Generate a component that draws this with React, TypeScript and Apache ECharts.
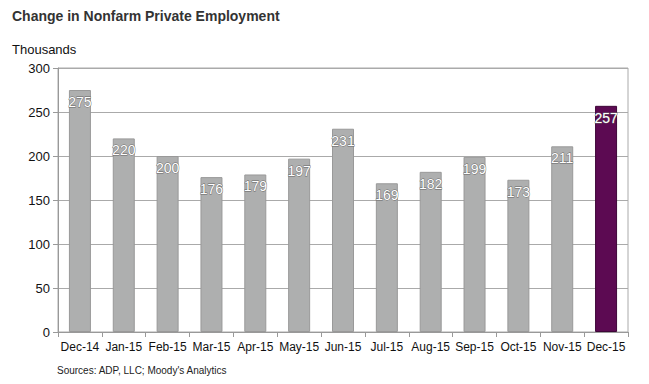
import React, { useEffect, useRef } from "react";
import * as echarts from "echarts";

const categories = ["Dec-14", "Jan-15", "Feb-15", "Mar-15", "Apr-15", "May-15", "Jun-15", "Jul-15", "Aug-15", "Sep-15", "Oct-15", "Nov-15", "Dec-15"];
const values = [275, 220, 200, 176, 179, 197, 231, 169, 182, 199, 173, 211, 257];
const highlightIndex = 12;

export default function App() {
  const ref = useRef<HTMLDivElement>(null);
  useEffect(() => {
    const chart = echarts.init(ref.current!, null, { renderer: "svg" });
    const font = "Arial, 'Liberation Sans', sans-serif";
    chart.setOption({
      animation: false,
      backgroundColor: "#ffffff",
      textStyle: { fontFamily: font },
      title: {
        text: "Change in Nonfarm Private Employment",
        left: 7,
        top: 4,
        textStyle: { fontSize: 14, fontWeight: "bold", color: "#333333", fontFamily: font },
      },
      graphic: [
        { type: "text", left: 12, top: 43, style: { text: "Thousands", fontSize: 13, fill: "#111", fontFamily: font } },
        { type: "text", left: 57, top: 365, style: { text: "Sources: ADP, LLC; Moody's Analytics", fontSize: 10, fill: "#222", fontFamily: font } },
      ],
      grid: { left: 58, right: 21, top: 68, bottom: 52, show: true, borderColor: "#aaaaaa", borderWidth: 1 },
      xAxis: {
        type: "category",
        data: categories,
        axisLine: { lineStyle: { color: "#999999" } },
        axisTick: { show: true, length: 5, lineStyle: { color: "#999999" } },
        axisLabel: { color: "#111", fontSize: 12, margin: 9, interval: 0, fontFamily: font },
      },
      yAxis: {
        type: "value",
        min: 0,
        max: 300,
        interval: 50,
        axisLine: { show: true, lineStyle: { color: "#999999" } },
        axisTick: { show: true, length: 5, lineStyle: { color: "#999999" } },
        axisLabel: { color: "#111", fontSize: 13, margin: 8, fontFamily: font },
        splitLine: { lineStyle: { color: "#aaaaaa" } },
      },
      series: [
        {
          type: "bar",
          data: values.map((v, i) => ({
            value: v,
            itemStyle: i === highlightIndex
              ? { color: "#5c0a52", borderColor: "#3e0638", borderWidth: 1 }
              : { color: "#aeafaf", borderColor: "#999999", borderWidth: 1 },
          })),
          barWidth: 22,
          label: {
            show: true,
            position: "insideTop",
            distance: 5,
            color: "#ffffff",
            fontSize: 14,
            fontFamily: font,
            textBorderColor: "#666666",
            textBorderWidth: 0.8,
          },
        },
      ],
    });
    return () => chart.dispose();
  }, []);
  return <div ref={ref} style={{ width: 649, height: 384, position: "absolute", left: 0, top: 0 }} />;
}
